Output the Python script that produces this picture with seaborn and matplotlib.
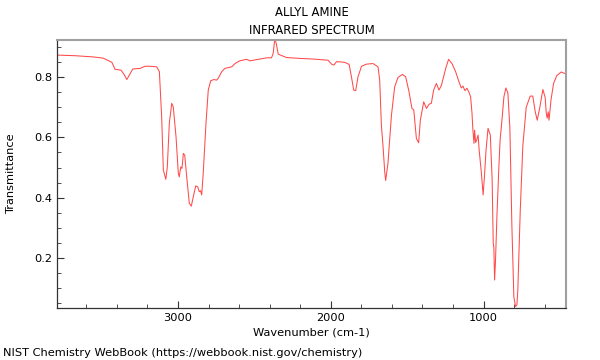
import matplotlib
matplotlib.use("Agg")
import matplotlib.pyplot as plt
import seaborn as sns
import pandas as pd
from matplotlib.ticker import MultipleLocator

# wavenumber (cm-1), high to low
wavenumber = [3789, 3673, 3556, 3490, 3433, 3412, 3373, 3353, 3335, 3318, 3296, 3248,
              3216, 3183, 3139, 3122, 3107, 3096, 3080, 3070, 3057, 3041, 3031, 3013,
              2998, 2992, 2982, 2974, 2965, 2956, 2943, 2926, 2913, 2900, 2884, 2871,
              2861, 2852, 2845, 2835, 2817, 2802, 2786, 2765, 2747, 2737, 2714, 2693,
              2649, 2627, 2595, 2551, 2529, 2475, 2420, 2388, 2377, 2366, 2355, 2344,
              2290, 2203, 2116, 2018, 1995, 1980, 1963, 1952, 1908, 1880, 1865, 1850,
              1837, 1822, 1799, 1767, 1724, 1691, 1680, 1669, 1658, 1647, 1641, 1626,
              1603, 1582, 1560, 1531, 1510, 1488, 1469, 1457, 1440, 1425, 1414, 1392,
              1374, 1357, 1342, 1327, 1309, 1292, 1276, 1248, 1229, 1205, 1183, 1161,
              1146, 1135, 1122, 1109, 1096, 1085, 1076, 1070, 1063, 1059, 1052, 1044,
              1036, 1029, 1015, 1003, 993, 984, 971, 956, 944, 937, 933, 928,
              922, 912, 900, 892, 878, 867, 854, 841, 828, 815, 802, 791,
              782, 776, 760, 743, 721, 695, 678, 662, 649, 632, 612, 597,
              590, 584, 577, 572, 567, 559, 542, 521, 492, 469]

transmittance = [0.873, 0.871, 0.867, 0.863, 0.849, 0.826, 0.823, 0.809, 0.792, 0.807, 0.827, 0.829,
                 0.836, 0.836, 0.834, 0.818, 0.668, 0.492, 0.461, 0.502, 0.646, 0.713, 0.701, 0.602,
                 0.481, 0.469, 0.502, 0.497, 0.547, 0.541, 0.469, 0.381, 0.372, 0.403, 0.439, 0.436,
                 0.420, 0.423, 0.409, 0.481, 0.646, 0.757, 0.788, 0.792, 0.790, 0.796, 0.818, 0.829,
                 0.834, 0.845, 0.854, 0.859, 0.854, 0.859, 0.864, 0.864, 0.879, 0.930, 0.906, 0.876,
                 0.865, 0.862, 0.860, 0.856, 0.843, 0.840, 0.851, 0.851, 0.849, 0.842, 0.801, 0.757,
                 0.755, 0.801, 0.836, 0.843, 0.845, 0.834, 0.790, 0.641, 0.569, 0.485, 0.457, 0.514,
                 0.674, 0.768, 0.799, 0.809, 0.801, 0.751, 0.696, 0.691, 0.597, 0.582, 0.657, 0.718,
                 0.696, 0.710, 0.713, 0.757, 0.779, 0.757, 0.773, 0.829, 0.859, 0.843, 0.818, 0.784,
                 0.764, 0.770, 0.755, 0.763, 0.750, 0.735, 0.681, 0.624, 0.580, 0.624, 0.583, 0.593,
                 0.608, 0.558, 0.485, 0.409, 0.482, 0.558, 0.630, 0.608, 0.458, 0.249, 0.236, 0.127,
                 0.193, 0.349, 0.503, 0.591, 0.668, 0.735, 0.764, 0.747, 0.631, 0.309, 0.071, 0.039,
                 0.044, 0.093, 0.359, 0.574, 0.700, 0.737, 0.737, 0.685, 0.657, 0.700, 0.759, 0.732,
                 0.681, 0.664, 0.685, 0.657, 0.681, 0.724, 0.779, 0.805, 0.817, 0.812]

df = pd.DataFrame({"wn": wavenumber, "T": transmittance})

sns.set_style("ticks")
plt.rcParams['font.family'] = ['DejaVu Sans']
plt.rcParams['text.color'] = 'black'
plt.rcParams['axes.labelcolor'] = 'black'

fig = plt.figure(figsize=(6, 3.6), dpi=100)
ax = fig.add_axes([0.095, 0.1444, 0.848, 0.7444])

sns.lineplot(data=df, x="wn", y="T", ax=ax, color="#ff4a4a", linewidth=0.75,
             sort=False, estimator=None)

ax.set_xlim(3792, 462)
ax.set_ylim(0.034, 0.923)

ax.xaxis.set_major_locator(MultipleLocator(1000))
ax.xaxis.set_minor_locator(MultipleLocator(200))
ax.yaxis.set_major_locator(MultipleLocator(0.2))
ax.yaxis.set_minor_locator(MultipleLocator(0.05))
ax.set_yticks([0.2, 0.4, 0.6, 0.8])
ax.tick_params(which="both", direction="in", labelsize=8.2, color="#333333",
               labelcolor="black")
ax.tick_params(which="major", length=5)
ax.tick_params(which="minor", length=3)

for s in ["top", "right"]:
    ax.spines[s].set_visible(True)
    ax.spines[s].set_color("#a0a0a0")
    ax.spines[s].set_linewidth(1.5)
for s in ["left", "bottom"]:
    ax.spines[s].set_color("#333333")
    ax.spines[s].set_linewidth(0.9)

ax.set_xlabel("Wavenumber (cm-1)", fontsize=8.2, labelpad=3)
ax.set_ylabel("Transmittance", fontsize=8.2, labelpad=13)
ax.set_title("ALLYL AMINE\nINFRARED SPECTRUM", fontsize=8.4, pad=4, linespacing=1.5)

fig.text(0.005, 0.012, "NIST Chemistry WebBook (https://webbook.nist.gov/chemistry)", fontsize=8.2)

fig.savefig("out.png", dpi=100)
